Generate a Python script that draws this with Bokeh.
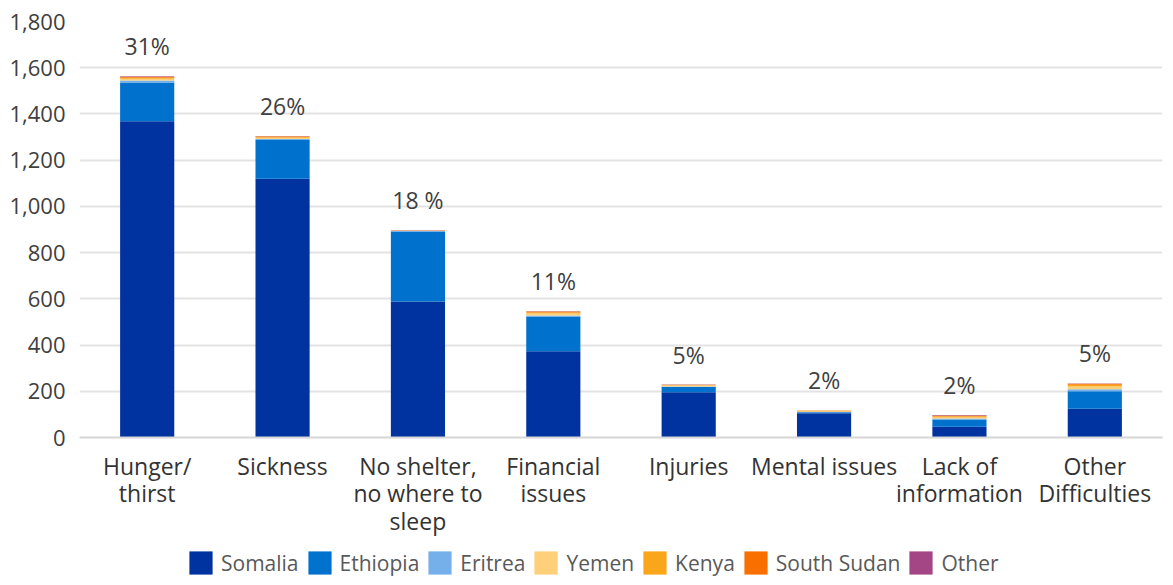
from bokeh.plotting import figure
from bokeh.layouts import column
from bokeh.models import (ColumnDataSource, FactorRange, Range1d, Legend, LegendItem,
                          NumeralTickFormatter, SingleIntervalTicker)
from bokeh.core.properties import value
from bokeh.embed import file_html
from bokeh.resources import INLINE

categories = ["Hunger/\nthirst", "Sickness", "No shelter,\nno where to\nsleep", "Financial\nissues",
              "Injuries", "Mental issues", "Lack of\ninformation", "Other\nDifficulties"]
somalia = [1368, 1120, 588, 373, 196, 105, 47, 124]
ethiopia = [168, 167, 303, 151, 22, 4, 31, 76]
eritrea = [9, 5, 2, 4, 3, 2, 4, 9]
yemen = [7, 5, 1, 8, 4, 2, 5, 12]
kenya = [5, 4, 1, 5, 2, 3, 5, 7]
south_sudan = [4, 3, 1, 4, 1, 1, 3, 5]
other = [2, 1, 1, 1, 1, 0, 2, 1]
pct_labels = ["31%", "26%", "18 %", "11%", "5%", "2%", "2%", "5%"]

series_names = ["Somalia", "Ethiopia", "Eritrea", "Yemen", "Kenya", "South Sudan", "Other"]
series_vals = [somalia, ethiopia, eritrea, yemen, kenya, south_sudan, other]
colors = ["#0033A0", "#0072CE", "#75B0EA", "#FFD07A", "#FAA61A", "#F97000", "#A44585"]

FONT = "Open Sans"

data = {"cat": categories}
for n, v in zip(series_names, series_vals):
    data[n] = v
totals = [sum(v[i] for v in series_vals) for i in range(len(categories))]
data["total"] = totals
data["pct"] = pct_labels
src = ColumnDataSource(data)

p = figure(x_range=FactorRange(*categories, range_padding=0), y_range=Range1d(0, 1800),
           width=1165, height=546, output_backend="svg", toolbar_location=None,
           min_border_left=79, min_border_right=3, min_border_top=21, min_border_bottom=109)
p.outline_line_color = None

renderers = p.vbar_stack(series_names, x="cat", width=0.4, source=src, color=colors, line_color=None)

p.text(x="cat", y="total", text="pct", source=src, text_align="center", text_baseline="alphabetic",
       y_offset=-30, text_font=value(FONT), text_font_size="23px", text_color="#404040")

# axes
p.yaxis.ticker = SingleIntervalTicker(interval=200)
p.yaxis.formatter = NumeralTickFormatter(format="0,0")
p.yaxis.axis_line_color = None
p.yaxis.major_tick_line_color = None
p.yaxis.minor_tick_line_color = None
p.yaxis.major_label_standoff = 8
p.yaxis.major_label_text_font = FONT
p.yaxis.major_label_text_font_size = "22px"
p.yaxis.major_label_text_color = "#404040"

p.xaxis.axis_line_color = "#d6d6d6"
p.xaxis.axis_line_width = 2
p.xaxis.major_tick_line_color = None
p.xaxis.minor_tick_line_color = None
p.xaxis.major_label_standoff = 6
p.xaxis.major_label_text_font = FONT
p.xaxis.major_label_text_font_size = "23px"
p.xaxis.major_label_text_color = "#333333"
p.xaxis.major_label_text_line_height = 0.86

p.xgrid.grid_line_color = None
p.ygrid.grid_line_color = "#e3e3e3"
p.ygrid.grid_line_width = 2

# legend in its own strip below the chart
lf = figure(width=1165, height=31, output_backend="svg", toolbar_location=None,
            x_range=Range1d(0, 1), y_range=Range1d(0, 1),
            min_border_left=79, min_border_right=3, min_border_top=0, min_border_bottom=0)
lf.axis.visible = False
lf.grid.visible = False
lf.outline_line_color = None
nan = float("nan")
items = []
for n, c in zip(series_names, colors):
    r = lf.rect(x=[nan], y=[nan], width=0.1, height=0.1, fill_color=c, line_color=None)
    items.append(LegendItem(label=n, renderers=[r]))
legend = Legend(items=items, orientation="horizontal", location=(107, 0),
                glyph_width=29, glyph_height=29, label_standoff=6, spacing=6,
                label_text_font=FONT, label_text_font_size="21px", label_text_color="#595959",
                border_line_color=None, background_fill_alpha=0, padding=0, margin=0)
lf.add_layout(legend, "center")

layout = column(p, lf, spacing=0)
open("out.html", "w").write(file_html(layout, INLINE))
